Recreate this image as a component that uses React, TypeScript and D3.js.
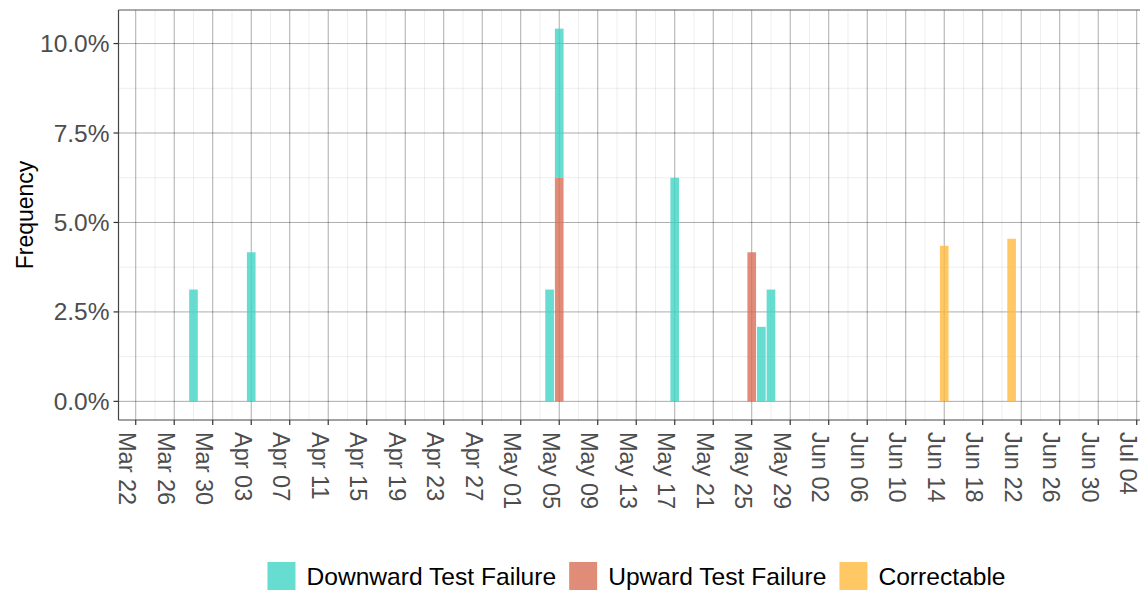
import React, { useEffect, useRef } from 'react';
import * as d3 from 'd3';

// Failure frequency per day (%)
const downwardDates = ['2020-03-28', '2020-04-03', '2020-05-04', '2020-05-05', '2020-05-17', '2020-05-26', '2020-05-27'];
const downwardValues = [3.125, 4.167, 3.125, 4.167, 6.25, 2.083, 3.125];

const upwardDates = ['2020-05-05', '2020-05-25'];
const upwardValues = [6.25, 4.167];

const correctableDates = ['2020-06-14', '2020-06-21'];
const correctableValues = [4.348, 4.545];

const seriesNames = ['Downward Test Failure', 'Upward Test Failure', 'Correctable'];
const seriesColors = ['#40D4C4', '#D96F56', '#FFBA3D'];

const yTicks = [0, 2.5, 5, 7.5, 10];
const yMinor = [1.25, 3.75, 6.25, 8.75];

const WIDTH = 1140;
const HEIGHT = 591;
const FONT = 'Liberation Sans, Arial, Helvetica, sans-serif';
const DAY = 864e5;

export default function App() {
  const svgRef = useRef<SVGSVGElement>(null);

  useEffect(() => {
    if (!svgRef.current) return;
    const svg = d3.select(svgRef.current);
    svg.selectAll('*').remove();

    const panel = { left: 118.5, right: 1140, top: 10, bottom: 420 };

    const parse = d3.utcParse('%Y-%m-%d');
    const firstTick = parse('2020-03-22')!;
    const lastTick = parse('2020-07-04')!;

    const x = d3.scaleUtc()
      .domain([new Date(firstTick.getTime() - 1.79 * DAY), new Date(lastTick.getTime() + 0.34 * DAY)])
      .range([panel.left, panel.right]);

    const y = d3.scaleLinear()
      .domain([-0.521, 10.938])
      .range([panel.bottom, panel.top]);

    // build table for stacking
    const table = new Map<string, any>();
    const add = (dates: string[], vals: number[], key: string) => {
      dates.forEach((d, i) => {
        if (!table.has(d)) table.set(d, { date: parse(d), [seriesNames[0]]: 0, [seriesNames[1]]: 0, [seriesNames[2]]: 0 });
        table.get(d)[key] = vals[i];
      });
    };
    add(downwardDates, downwardValues, seriesNames[0]);
    add(upwardDates, upwardValues, seriesNames[1]);
    add(correctableDates, correctableValues, seriesNames[2]);
    const rows = Array.from(table.values());

    // ggplot puts first level on top -> stack bottom-up in reverse
    const stackKeys = [seriesNames[2], seriesNames[1], seriesNames[0]];
    const stacked = d3.stack<any>().keys(stackKeys)(rows);
    const color = d3.scaleOrdinal<string, string>().domain(seriesNames).range(seriesColors);

    const clipId = 'panel-clip';
    svg.append('defs').append('clipPath').attr('id', clipId)
      .append('rect')
      .attr('x', panel.left).attr('y', panel.top)
      .attr('width', panel.right - panel.left).attr('height', panel.bottom - panel.top);

    const grid = svg.append('g').attr('clip-path', `url(#${clipId})`);

    const majorX = d3.utcDay.range(firstTick, new Date(lastTick.getTime() + DAY), 4);
    const minorX = d3.utcDay.range(new Date(firstTick.getTime() - 2 * DAY), new Date(lastTick.getTime() + 3 * DAY), 4);

    // minor grid
    grid.selectAll('.minor-x').data(minorX).enter().append('line')
      .attr('x1', d => x(d)).attr('x2', d => x(d))
      .attr('y1', panel.top).attr('y2', panel.bottom)
      .attr('stroke', '#000').attr('stroke-opacity', 0.07).attr('stroke-width', 1);
    grid.selectAll('.minor-y').data(yMinor).enter().append('line')
      .attr('x1', panel.left).attr('x2', panel.right)
      .attr('y1', d => y(d)).attr('y2', d => y(d))
      .attr('stroke', '#000').attr('stroke-opacity', 0.07).attr('stroke-width', 1);

    // major grid
    grid.selectAll('.major-x').data(majorX).enter().append('line')
      .attr('x1', d => x(d)).attr('x2', d => x(d))
      .attr('y1', panel.top).attr('y2', panel.bottom)
      .attr('stroke', '#000').attr('stroke-opacity', 0.33).attr('stroke-width', 1);
    grid.selectAll('.major-y').data(yTicks).enter().append('line')
      .attr('x1', panel.left).attr('x2', panel.right)
      .attr('y1', d => y(d)).attr('y2', d => y(d))
      .attr('stroke', '#000').attr('stroke-opacity', 0.33).attr('stroke-width', 1);

    // bars
    const halfBar = 0.45 * DAY;
    svg.append('g').attr('clip-path', `url(#${clipId})`)
      .selectAll('g').data(stacked).enter().append('g')
      .attr('fill', d => color(d.key))
      .attr('fill-opacity', 0.8)
      .selectAll('rect')
      .data(d => d.filter(s => s[1] - s[0] > 0))
      .enter().append('rect')
      .attr('x', d => x(new Date(d.data.date.getTime() - halfBar)))
      .attr('width', d => x(new Date(d.data.date.getTime() + halfBar)) - x(new Date(d.data.date.getTime() - halfBar)))
      .attr('y', d => y(d[1]))
      .attr('height', d => y(d[0]) - y(d[1]));

    // panel border (left/top) and bottom axis
    svg.append('line').attr('x1', panel.left).attr('x2', panel.right)
      .attr('y1', panel.top).attr('y2', panel.top).attr('stroke', '#555').attr('stroke-width', 1);
    svg.append('line').attr('x1', panel.left).attr('x2', panel.left)
      .attr('y1', panel.top).attr('y2', panel.bottom).attr('stroke', '#444').attr('stroke-width', 1.2);
    svg.append('line').attr('x1', panel.left).attr('x2', panel.right)
      .attr('y1', panel.bottom).attr('y2', panel.bottom).attr('stroke', '#444').attr('stroke-width', 1.2);

    // y axis ticks + labels
    const fmtPct = (v: number) => d3.format('.1f')(v) + '%';
    const yAxis = svg.append('g');
    yAxis.selectAll('line').data(yTicks).enter().append('line')
      .attr('x1', panel.left - 5).attr('x2', panel.left)
      .attr('y1', d => y(d)).attr('y2', d => y(d))
      .attr('stroke', '#333').attr('stroke-width', 1.2);
    yAxis.selectAll('text').data(yTicks).enter().append('text')
      .attr('x', panel.left - 9).attr('y', d => y(d))
      .attr('text-anchor', 'end').attr('dominant-baseline', 'central')
      .attr('font-family', FONT).attr('font-size', 24.5).attr('fill', '#4D4D4D')
      .text(d => fmtPct(d));

    // x axis ticks + rotated labels
    const fmtDate = d3.utcFormat('%b %d');
    const xAxis = svg.append('g');
    xAxis.selectAll('line').data(majorX).enter().append('line')
      .attr('x1', d => x(d)).attr('x2', d => x(d))
      .attr('y1', panel.bottom).attr('y2', panel.bottom + 5)
      .attr('stroke', '#333').attr('stroke-width', 1.2);
    xAxis.selectAll('text').data(majorX).enter().append('text')
      .attr('transform', d => `translate(${x(d) + 1},${panel.bottom + 12}) rotate(90)`)
      .attr('dy', '0.74em')
      .attr('text-anchor', 'start')
      .attr('font-family', FONT).attr('font-size', 23.5).attr('fill', '#4D4D4D')
      .text(d => fmtDate(d));

    // y title
    svg.append('text')
      .attr('transform', `translate(33,${(panel.top + panel.bottom) / 2}) rotate(-90)`)
      .attr('text-anchor', 'middle')
      .attr('font-family', FONT).attr('font-size', 23).attr('fill', '#000')
      .text('Frequency');

    // legend
    const legend = svg.append('g');
    const keySize = 28;
    const keyGap = 11;
    const itemGap = 13;
    const legendY = 576;
    let cursor = 0;
    seriesNames.forEach(name => {
      const g = legend.append('g');
      g.append('rect')
        .attr('x', 0).attr('y', legendY - keySize / 2)
        .attr('width', keySize).attr('height', keySize)
        .attr('fill', color(name)).attr('fill-opacity', 0.8);
      const t = g.append('text')
        .attr('x', keySize + keyGap).attr('y', legendY)
        .attr('dominant-baseline', 'central')
        .attr('font-family', FONT).attr('font-size', 24.6).attr('fill', '#000')
        .text(name);
      const w = keySize + keyGap + (t.node() as SVGTextElement).getComputedTextLength();
      g.attr('transform', `translate(${cursor},0)`);
      cursor += w + itemGap;
    });
    const total = cursor - itemGap;
    const legendCenter = 636.5;
    legend.attr('transform', `translate(${legendCenter - total / 2},0)`);
  }, []);

  return (
    <svg
      ref={svgRef}
      width={WIDTH}
      height={HEIGHT}
      style={{ position: 'absolute', left: 0, top: 0, background: '#fff' }}
    />
  );
}
